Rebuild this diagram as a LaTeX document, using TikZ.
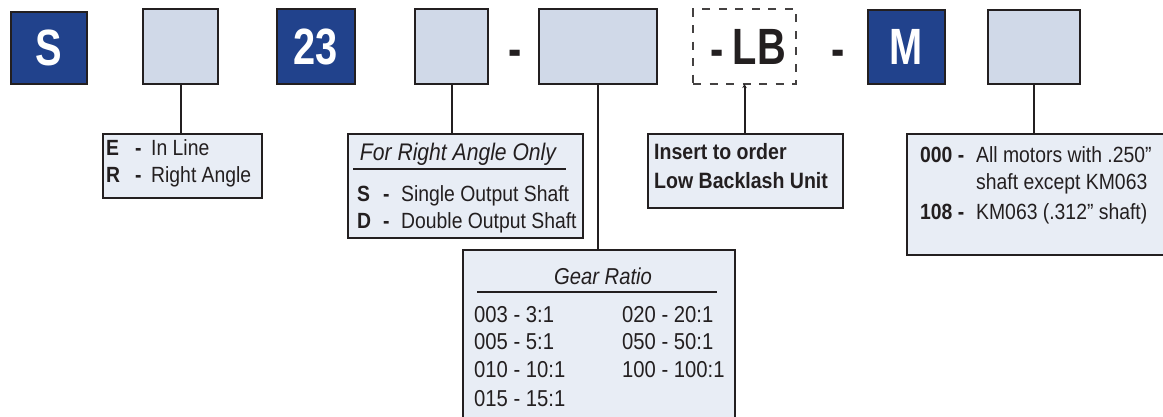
\documentclass[tikz,border=0pt]{standalone}
\usepackage{fontspec}
\setmainfont{Liberation Sans}
\newfontfamily\capfont[FakeStretch=0.78]{Liberation Sans}
\newfontfamily\narrowfont[FakeStretch=0.88]{Liberation Sans}
\usetikzlibrary{arrows.meta}

\definecolor{ink}{HTML}{231F20}
\definecolor{navy}{HTML}{21428C}
\definecolor{slot}{HTML}{D0D9E8}
\definecolor{panel}{HTML}{E8EDF5}

\newcommand{\bodyfont}{\narrowfont\fontsize{22}{26}\selectfont}
\newcommand{\gearfont}{\narrowfont\fontsize{23}{27}\selectfont}
\newcommand{\bigfont}{\capfont\bfseries\fontsize{51}{53}\selectfont}

\tikzset{
  fixedbox/.style={draw=ink, line width=2.6pt, fill=navy, text=white,
    inner sep=0pt, outer sep=0pt, font=\bigfont},
  slotbox/.style={draw=ink, line width=2.6pt, fill=slot, inner sep=0pt, outer sep=0pt},
  optbox/.style={draw=ink!85, line width=2pt, dash pattern=on 8pt off 8.5pt,
    inner sep=0pt, outer sep=0pt},
  panelbox/.style={draw=ink, line width=2.4pt, fill=panel, inner sep=0pt,
    outer sep=0pt, anchor=north west},
  wire/.style={draw=ink, line width=2pt},
  rulebar/.style={draw=ink, line width=2pt},
  sep/.style={font=\bigfont, text=ink, inner sep=0pt, anchor=base},
  txt/.style={font=\bodyfont, text=ink, inner sep=0pt, anchor=base west},
  geartxt/.style={font=\gearfont, text=ink, inner sep=0pt, anchor=base west},
}

\begin{document}
\begin{tikzpicture}[x=1pt, y=-1pt]
  \path[use as bounding box, clip] (0,0) rectangle (1163,416);

  % model code fields
  \node[fixedbox, minimum width=76pt, minimum height=72pt] (bS)  at (49,48) {S};
  \node[slotbox,  minimum width=75pt, minimum height=75pt] (b2)  at (180.5,46.5) {};
  \node[fixedbox, minimum width=78pt, minimum height=75pt] (b23) at (316,46.5) {23};
  \node[slotbox,  minimum width=73pt, minimum height=75pt] (b4)  at (451.5,46.5) {};
  \node[sep] (d1) at (515,66) {-};
  \node[slotbox,  minimum width=118pt, minimum height=75pt] (b5) at (598,46.5) {};
  \node[optbox,   minimum width=103pt, minimum height=75pt] (bLB) at (744.5,46.5) {};
  \node[sep] (dLB) at (717.5,66) {-};
  \node[sep] (tLB) at (759.5,64) {LB};
  \node[sep] (d2) at (838,66) {-};
  \node[fixedbox, minimum width=77pt, minimum height=74pt] (bM)  at (906.5,47) {M};
  \node[slotbox,  minimum width=92pt, minimum height=74pt] (b6)  at (1034,47) {};

  % option panels
  \node[panelbox, minimum width=159pt, minimum height=64pt]  (pType) at (103,134) {};
  \node[panelbox, minimum width=235pt, minimum height=104pt] (pShaft) at (348,134) {};
  \node[panelbox, minimum width=272pt, minimum height=200pt] (pGear) at (463,250) {};
  \node[panelbox, minimum width=195pt, minimum height=74pt]  (pLB) at (648,134) {};
  \node[panelbox, minimum width=275pt, minimum height=121pt] (pMotor) at (907,134) {};

  % leaders
  \draw[wire] (b2.south) -- (b2.south |- pType.north);
  \draw[wire] (b4.south) -- (b4.south |- pShaft.north);
  \draw[wire] (b5.south) -- (b5.south |- pGear.north);
  \draw[wire, -{Stealth[length=4pt, width=4.5pt]}] (bLB.south |- pLB.north) -- (bLB.south);
  \draw[wire] (b6.south) -- (b6.south |- pMotor.north);

  % type
  \node[txt] (tE)  at (106,155) {\textbf{E}};
  \node[txt] (tEd) at (135,155) {\textbf{-}};
  \node[txt] (tEt) at (151,155) {In Line};
  \node[txt] (tR)  at (106,182) {\textbf{R}};
  \node[txt] (tRd) at (135,182) {\textbf{-}};
  \node[txt] (tRt) at (151,182) {Right Angle};

  % output shaft
  \node[font=\narrowfont\fontsize{24}{28}\selectfont\itshape, text=ink, inner sep=0pt, anchor=base] (tSh) at (458,160) {For Right Angle Only};
  \coordinate (shL) at (353,169);
  \coordinate (shR) at (566,169);
  \draw[rulebar] (shL) -- (shR);
  \node[txt] (tS)  at (357,201) {\textbf{S}};
  \node[txt] (tSd) at (383,201) {\textbf{-}};
  \node[txt] (tSt) at (401,201) {Single Output Shaft};
  \node[txt] (tD)  at (357,228) {\textbf{D}};
  \node[txt] (tDd) at (383,228) {\textbf{-}};
  \node[txt] (tDt) at (401,228) {Double Output Shaft};

  % gear ratio
  \node[font=\narrowfont\fontsize{23}{27}\selectfont\itshape, text=ink, inner sep=0pt, anchor=base] (tGr) at (603,284) {Gear Ratio};
  \coordinate (grL) at (477,292);
  \coordinate (grR) at (717,292);
  \draw[rulebar] (grL) -- (grR);
  \node[geartxt] (g1) at (474,322) {003 - 3:1};
  \node[geartxt] (g2) at (474,349) {005 - 5:1};
  \node[geartxt] (g3) at (474,377) {010 - 10:1};
  \node[geartxt] (g4) at (474,406) {015 - 15:1};
  \node[geartxt] (g5) at (622,322) {020 - 20:1};
  \node[geartxt] (g6) at (622,349) {050 - 50:1};
  \node[geartxt] (g7) at (622,377) {100 - 100:1};

  % low backlash
  \node[txt, font=\narrowfont\fontsize{22.2}{26}\selectfont\bfseries] (tI1) at (654,159) {Insert to order};
  \node[txt, font=\narrowfont\fontsize{22.2}{26}\selectfont\bfseries] (tI2) at (654,188) {Low Backlash Unit};

  % motor adapter
  \node[txt] (m1) at (920,162) {\textbf{000 -}};
  \node[txt] (m2) at (976,162) {All motors with .250”};
  \node[txt] (m3) at (976,189) {shaft except KM063};
  \node[txt] (m4) at (920,219) {\textbf{108 -}};
  \node[txt] (m5) at (976,219) {KM063 (.312” shaft)};
\end{tikzpicture}
\end{document}
